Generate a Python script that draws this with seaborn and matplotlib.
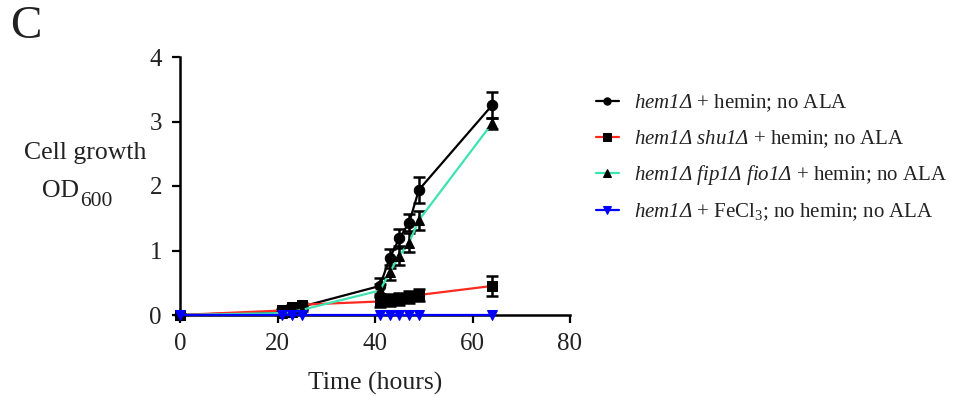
import matplotlib
matplotlib.use("Agg")
import matplotlib.pyplot as plt
import seaborn as sns
import numpy as np
import pandas as pd

# ---- data ----
time = [0, 21, 23, 25, 41, 43, 45, 47, 49, 64]
hem1 = [0.0, 0.05, 0.10, 0.13, 0.45, 0.88, 1.19, 1.43, 1.94, 3.25]
hem1_err = [0.02, 0.02, 0.03, 0.03, 0.12, 0.15, 0.15, 0.13, 0.20, 0.20]
shu1 = [0.0, 0.07, 0.13, 0.16, 0.21, 0.23, 0.25, 0.28, 0.31, 0.45]
shu1_err = [0.02, 0.03, 0.03, 0.03, 0.09, 0.09, 0.09, 0.09, 0.09, 0.15]
fip = [0.0, 0.03, 0.05, 0.08, 0.38, 0.66, 0.92, 1.12, 1.47, 2.97]
fip_err = [0.02, 0.02, 0.02, 0.02, 0.10, 0.12, 0.15, 0.15, 0.15, 0.08]
fecl = [0.0, 0.0, 0.0, 0.0, 0.0, 0.0, 0.0, 0.0, 0.0, 0.0]
fecl_err = [0.0, 0.0, 0.0, 0.0, 0.0, 0.0, 0.0, 0.0, 0.0, 0.0]

labels = [
    r"$\mathcal{hem1Δ}$ + hemin; no ALA",
    r"$\mathcal{hem1Δ\ shu1Δ}$ + hemin; no ALA",
    r"$\mathcal{hem1Δ\ fip1Δ\ fio1Δ}$ + hemin; no ALA",
    r"$\mathcal{hem1Δ}$ + FeCl$_3$; no hemin; no ALA",
]
x_ticks = [0, 20, 40, 60, 80]
y_ticks = [0, 1, 2, 3, 4]

sns.set_style("ticks")
plt.rcParams["font.family"] = ["Liberation Serif", "DejaVu Serif"]
plt.rcParams["mathtext.fontset"] = "custom"
plt.rcParams["mathtext.rm"] = "Liberation Serif"
plt.rcParams["mathtext.it"] = "Liberation Serif:italic"
plt.rcParams["mathtext.cal"] = "Liberation Serif:italic"
plt.rcParams["mathtext.bf"] = "Liberation Serif:bold"

fig = plt.figure(figsize=(9.54, 3.96), dpi=100)
ax = fig.add_axes([180 / 954, 1 - 315 / 396, 390 / 954, 258 / 396])

series = [
    (hem1, hem1_err, "black", "o", "black", labels[0]),
    (shu1, shu1_err, "#ff2a1f", "s", "black", labels[1]),
    (fip, fip_err, "#3de3b0", "^", "black", labels[2]),
    (fecl, fecl_err, "#0000ff", "v", "#0000ff", labels[3]),
]
order = [1, 2, 0, 3]
for i in order:
    vals, err, lc, mk, mc, lab = series[i]
    df = pd.DataFrame({"time": time, "od": vals})
    if i != 3:
        ax.errorbar(time, vals, yerr=err, fmt="none", ecolor="black",
                    elinewidth=1.8, capsize=4.5, capthick=1.8, zorder=2 + i)
    sns.lineplot(data=df, x="time", y="od", ax=ax, color=lc, marker=mk,
                 markersize=7.5, markerfacecolor=mc, markeredgecolor=mc,
                 linewidth=1.6, label=lab, zorder=3 + i, clip_on=False)

ax.set_xlim(0, 80)
ax.set_ylim(0, 4)
ax.set_xticks(x_ticks)
ax.set_yticks(y_ticks)
ax.tick_params(labelsize=18, width=1.6, length=6, pad=7, color="black", labelcolor="#222222")
for s in ["left", "bottom"]:
    ax.spines[s].set_linewidth(1.8)
    ax.spines[s].set_color("black")
sns.despine(ax=ax)
ax.set_xlabel("Time (hours)", fontsize=18.5, color="#222222", labelpad=12)
ax.set_ylabel("")

fig.text(85 / 954, 1 - 153 / 396, "Cell growth", ha="center", va="center",
         fontsize=18.5, color="#222222")
fig.text(42 / 954, 1 - 197 / 396, "OD", ha="left", va="baseline",
         fontsize=18.5, color="#222222")
fig.text(80 / 954, 1 - 206 / 396, "600", ha="left", va="baseline",
         fontsize=15.5, color="#222222")
fig.text(10 / 954, 1 - 27 / 396, "C", fontsize=34, ha="left", va="center", color="#222222")

handles, labs = ax.get_legend_handles_labels()
hmap = dict(zip(labs, handles))
leg = ax.legend([hmap[l] for l in labels], labels, loc="upper left",
                bbox_to_anchor=(577 / 954, 1 - 74 / 396), bbox_transform=fig.transFigure,
                frameon=False, fontsize=15, handlelength=1.1, handletextpad=0.75,
                labelspacing=0.66, markerscale=0.7)
for t in leg.get_texts():
    t.set_color("#222222")

fig.savefig("out.png", dpi=100)
